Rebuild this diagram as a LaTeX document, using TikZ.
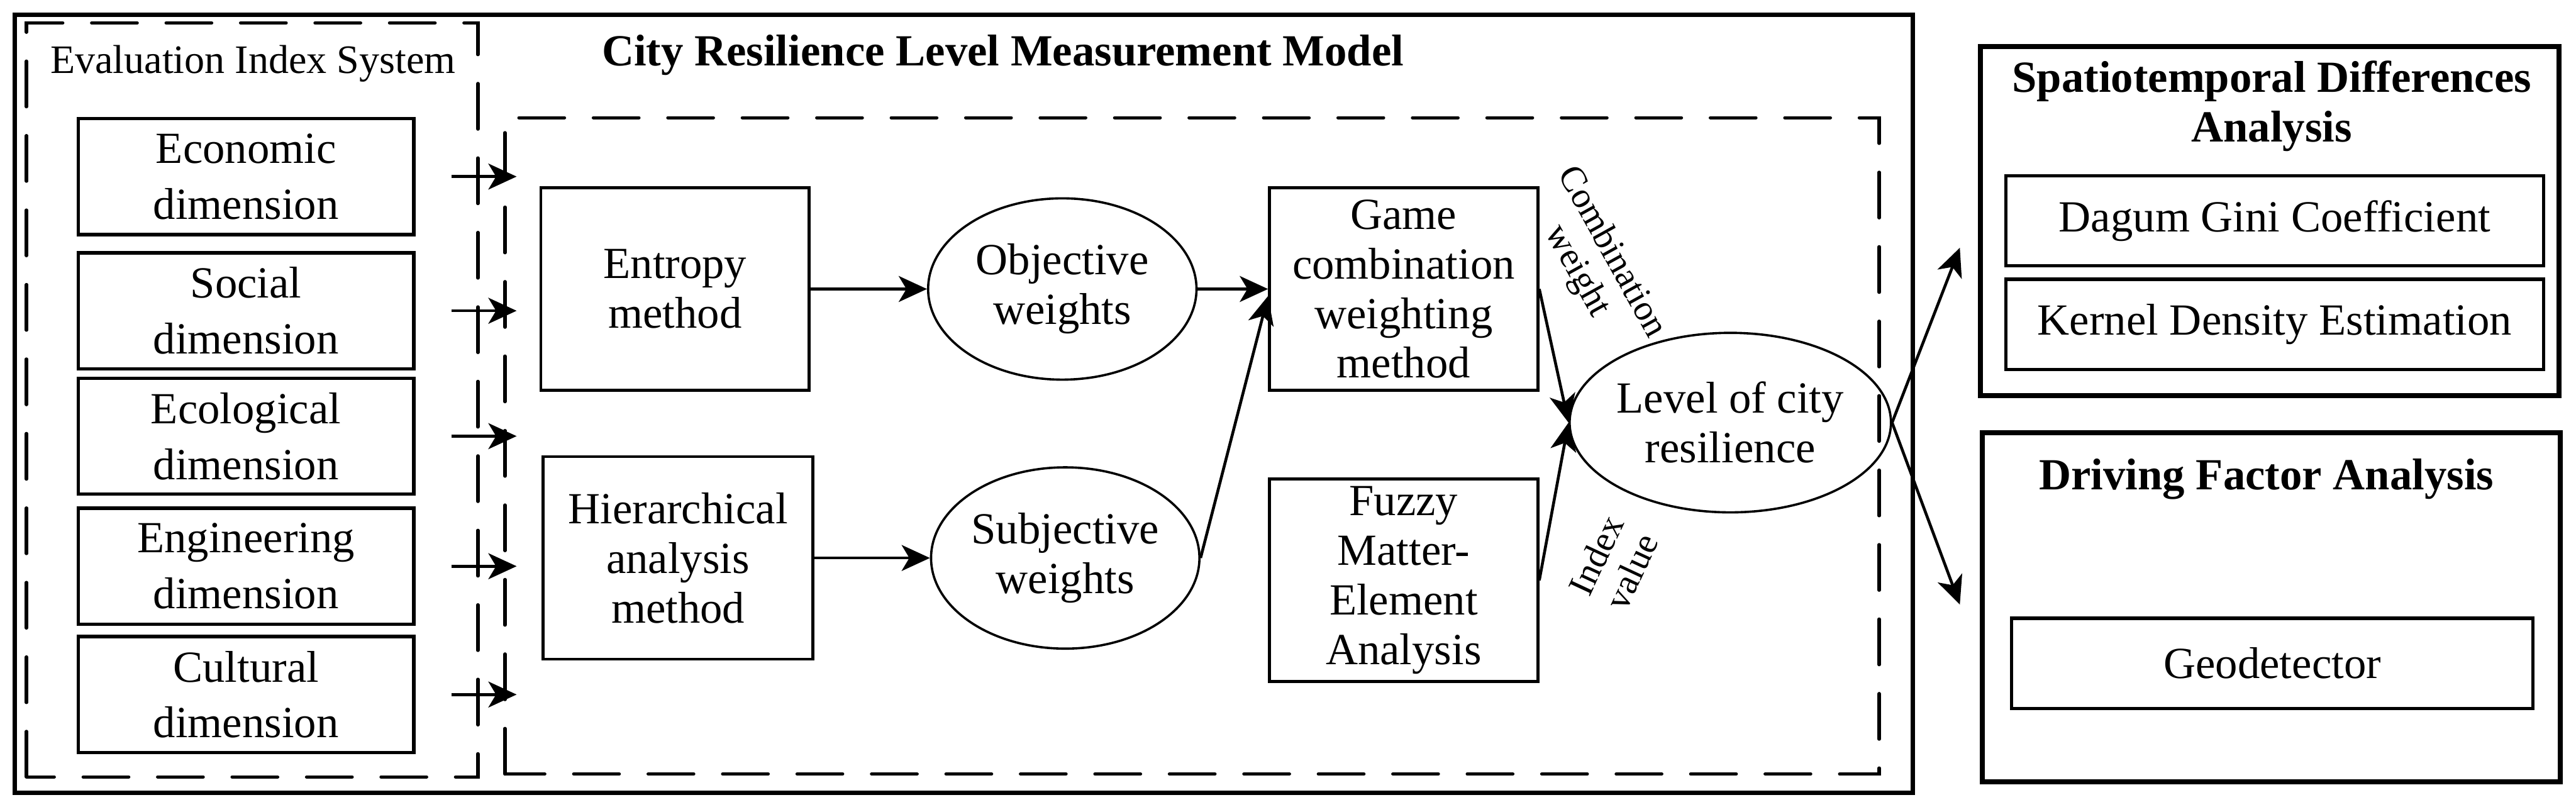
\documentclass[tikz,border=0pt]{standalone}
\usepackage{fontspec}
\setmainfont{Liberation Serif}
\usetikzlibrary{arrows.meta,shapes.geometric}

\begin{document}
\begin{tikzpicture}[
  every node/.style={font=\fontsize{21.5}{24}\selectfont},
  box/.style={draw, line width=1.4pt, align=center, inner sep=0pt},
  dimbox/.style={box, line width=1.6pt, minimum width=5.7cm, minimum height=1.97cm, font=\fontsize{21.5}{27}\selectfont},
  methodbox/.style={box, minimum width=4.56cm, minimum height=3.44cm},
  toolbox/.style={box, line width=1.6pt, minimum width=9.14cm, minimum height=1.53cm},
  weightnode/.style={draw, ellipse, line width=1.1pt, align=center, inner sep=0pt, minimum width=4.56cm, minimum height=3.08cm},
  groupbox/.style={draw, line width=1.6pt, dash pattern=on 22pt off 14pt, line cap=round},
  panel/.style={draw, line width=2.3pt},
  heading/.style={anchor=base, align=center, font=\bfseries\fontsize{21.5}{24}\selectfont},
  flow/.style={-{Stealth[length=4.8mm,width=4.4mm,inset=1.3mm]}, line width=1.4pt},
  edgelabel/.style={align=center, inner sep=0pt, font=\fontsize{17.5}{19}\selectfont}
]
\useasboundingbox (0,0) rectangle (43.77,13.79);

% frames
\draw[panel] (0.25,0.32) rectangle (32.50,13.54);
\draw[groupbox] (0.45,0.59) rectangle (8.12,13.40);
\draw[groupbox] (8.58,0.64) rectangle (31.93,11.79);
\draw[panel] (33.65,7.07) rectangle (43.48,13.00);
\draw[panel] (33.68,0.51) rectangle (43.50,6.44);

\node[anchor=base, font=\fontsize{19.5}{22}\selectfont] (evaltitle) at (4.30,12.54) {Evaluation Index System};
\node[heading] (modeltitle) at (17.04,12.67) {City Resilience Level Measurement Model};

% evaluation dimensions
\foreach \name/\y/\txt in {econ/10.79/Economic, soc/8.51/Social, eco/6.38/Ecological, eng/4.17/Engineering, cul/1.99/Cultural}{
  \node[dimbox] (\name) at (4.18,\y) {\txt\\dimension};
  \draw[flow] ([xshift=0.61cm]\name.east) -- ([xshift=1.72cm]\name.east);
}

% measurement model
\node[methodbox] (entropy) at (11.47,8.88) {Entropy\\method};
\node[methodbox, minimum width=4.58cm] (ahp) at (11.52,4.31) {Hierarchical\\analysis\\method};
\node[weightnode] (objw) at (18.05,8.88) {Objective\\weights};
\node[weightnode] (subw) at (18.10,4.31) {Subjective\\weights};
\node[methodbox] (game) at (23.85,8.88) {Game\\combination\\weighting\\method};
\node[methodbox] (fuzzy) at (23.85,3.93) {Fuzzy\\Matter-\\Element\\Analysis};
\node[weightnode, minimum width=5.07cm, minimum height=3.05cm] (level) at (29.40,6.61) {Level of city\\resilience};

\draw[flow] (entropy.east) -- (objw.west);
\draw[flow] (ahp.east) -- (subw.west);
\draw[flow] (objw.east) -- (game.west);
\draw[flow] (subw.east) -- ([yshift=-0.12cm]game.west);
\draw[flow] (game.east) -- (level.west);
\draw[flow] (fuzzy.east) -- (level.west);

\node[edgelabel, rotate=-61] (cwlabel) at (27.08,9.34) {Combination\\weight};
\node[edgelabel, rotate=65] (ivlabel) at (27.42,4.22) {Index\\value};

% analysis panels
\node[heading] (spatitle) at (38.60,11.38) {Spatiotemporal Differences\\Analysis};
\node[toolbox] (dagum) at (38.65,10.04) {Dagum Gini Coefficient};
\node[toolbox] (kernel) at (38.65,8.28) {Kernel Density Estimation};
\node[heading] (drivetitle) at (38.51,5.47) {Driving Factor Analysis};
\node[toolbox, minimum width=8.86cm] (geo) at (38.61,2.52) {Geodetector};

\coordinate (toSpatial) at (33.30,9.58);
\coordinate (toDriving) at (33.30,3.52);
\draw[flow] (level.east) -- (toSpatial);
\draw[flow] (level.east) -- (toDriving);

\end{tikzpicture}
\end{document}
